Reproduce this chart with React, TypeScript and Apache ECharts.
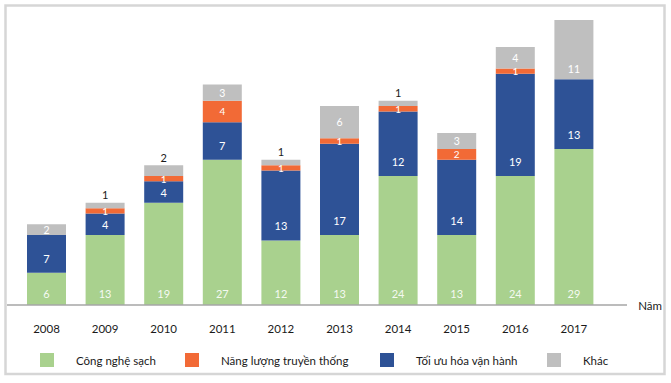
import React, { useEffect, useRef } from "react";
import * as echarts from "echarts";

const years = ["2008", "2009", "2010", "2011", "2012", "2013", "2014", "2015", "2016", "2017"];
const congNgheSach = [6, 13, 19, 27, 12, 13, 24, 13, 24, 29];
const toiUuHoa = [7, 4, 4, 7, 13, 17, 12, 14, 19, 13];
const nangLuong = [0, 1, 1, 4, 1, 1, 1, 2, 1, 0];
const khac = [2, 1, 2, 3, 1, 6, 1, 3, 4, 11];
const seriesNames = ["Công nghệ sạch", "Năng lượng truyền thống", "Tối ưu hóa vận hành", "Khác"];

const FONT = "Lato";

export default function App() {
  const ref = useRef<HTMLDivElement>(null);
  useEffect(() => {
    if (!ref.current) return;
    const chart = echarts.init(ref.current, null, { renderer: "svg" });
    const innerLabel = {
      show: true,
      color: "#ffffff",
      fontFamily: FONT,
      fontSize: 11,
      lineHeight: 11,
      formatter: (p: any) => (p.value ? String(p.value) : ""),
    };
    const aboveIdx = [1, 2, 4, 6];
    const khacData = khac.map((v, i) => {
      if (aboveIdx.includes(i)) {
        return { value: v, label: { position: "top", color: "#1a1a1a", distance: 3, fontSize: 11 } };
      }
      if (i === 9) {
        return { value: v, label: { position: "insideBottom", distance: 5 } };
      }
      return v;
    });
    const toiUuData = toiUuHoa.map((v) =>
      v <= 5 ? { value: v, label: { position: "inside" } } : v
    );
    const legendLeft = [40, 185, 380, 547];
    const legendColors = ["#a9d18e", "#f26a36", "#2e5296", "#bfbfbf"];
    chart.setOption({
      animation: false,
      color: legendColors,
      grid: { left: 17.2, right: 67.8, top: 20, bottom: 78 },
      xAxis: {
        type: "category",
        data: years,
        axisLine: { show: false },
        axisTick: { show: false },
        axisLabel: { color: "#1a1a1a", fontFamily: FONT, fontSize: 11.5, margin: 17 },
        name: "Năm",
        nameLocation: "end",
        nameGap: 35,
        nameTextStyle: { color: "#1a1a1a", fontFamily: FONT, fontSize: 11.5 },
      },
      yAxis: { type: "value", min: 0, max: 53, show: false, splitLine: { show: false } },
      legend: seriesNames.map((n, i) => ({
        data: [n],
        left: legendLeft[i],
        top: 353,
        padding: 0,
        itemWidth: 14,
        itemHeight: 14,
        itemGap: 0,
        icon: "rect",
        textStyle: { color: "#1a1a1a", fontFamily: FONT, fontSize: 11.5, padding: [0, 0, 0, 17] },
      })),
      series: [
        {
          name: seriesNames[0],
          type: "bar",
          stack: "a",
          barWidth: 39,
          data: congNgheSach,
          itemStyle: { color: legendColors[0] },
          label: { ...innerLabel, position: "insideBottom", distance: 6, color: "rgba(255,255,255,0.9)" },
        },
        {
          name: seriesNames[2],
          type: "bar",
          stack: "a",
          data: toiUuData,
          itemStyle: { color: legendColors[2] },
          label: { ...innerLabel, position: "insideBottom", distance: 9 },
        },
        {
          name: seriesNames[1],
          type: "bar",
          stack: "a",
          data: nangLuong,
          itemStyle: { color: legendColors[1] },
          label: { ...innerLabel, position: "inside", fontSize: 10, lineHeight: 10 },
        },
        {
          name: seriesNames[3],
          type: "bar",
          stack: "a",
          data: khacData,
          itemStyle: { color: legendColors[3] },
          label: { ...innerLabel, position: "inside", fontSize: 10.5, lineHeight: 10 },
        },
      ],
      graphic: [
        {
          type: "rect",
          shape: { x: 5.5, y: 5.5, width: 659, height: 368.5 },
          style: { fill: "none", stroke: "#d6d6d6", lineWidth: 2.5 },
          silent: true,
        },
        {
          type: "line",
          shape: { x1: 7, y1: 305, x2: 627, y2: 305 },
          style: { stroke: "#a6a6a6", lineWidth: 1.5 },
          silent: true,
          z: 10,
        },
      ],
    });
    return () => chart.dispose();
  }, []);
  return (
    <div
      ref={ref}
      style={{ position: "fixed", left: 0, top: 0, width: 671, height: 383, background: "#ffffff" }}
    />
  );
}
